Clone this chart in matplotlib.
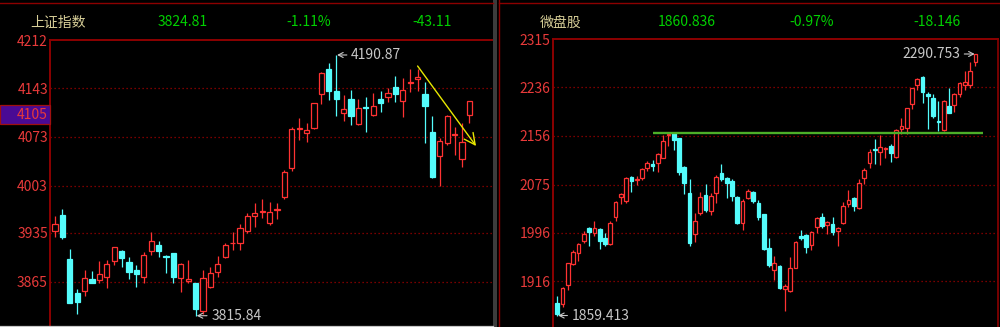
import numpy as np
import matplotlib
matplotlib.use("Agg")
import matplotlib.pyplot as plt
from matplotlib.patches import Rectangle
from matplotlib.lines import Line2D
import matplotlib.transforms as mtransforms

plt.rcParams['font.family'] = ['Noto Sans CJK SC', 'DejaVu Sans']

# ---------------- Shanghai Composite (上证指数) daily candles ----------------
sh_open = [3938.1, 3960.7, 3897.0, 3848.1, 3851.4, 3868.6, 3867.2, 3871.9, 3894.5, 3909.3,
           3893.5, 3881.6, 3871.9, 3908.9, 3917.1, 3902.1, 3905.6, 3869.6, 3866.2, 3862.4,
           3822.6, 3856.7, 3879.1, 3899.8, 3920.0, 3920.8, 3937.7, 3959.3, 3965.0, 3948.8,
           3968.6, 3987.0, 4027.9, 4084.9, 4079.1, 4086.3, 4134.8, 4170.3, 4139.5, 4107.9,
           4127.6, 4091.2, 4116.1, 4104.6, 4127.6, 4130.9, 4145.3, 4125.1, 4150.6, 4155.9,
           4134.3, 4079.7, 4045.6, 4063.8, 4075.8, 4040.8, 4105.0]
sh_high = [3959.7, 3968.9, 3911.4, 3853.8, 3881.6, 3880.1, 3894.9, 3896.0, 3915.1, 3910.3,
           3899.8, 3888.8, 3907.9, 3935.8, 3923.7, 3903.2, 3906.0, 3892.1, 3896.0, 3862.4,
           3881.6, 3886.3, 3902.1, 3920.0, 3935.8, 3947.3, 3963.1, 3977.5, 3983.3, 3979.8,
           3977.5, 4025.4, 4087.7, 4099.8, 4093.5, 4122.3, 4166.8, 4179.8, 4190.87, 4133.3,
           4140.5, 4127.1, 4130.0, 4135.8, 4139.5, 4143.0, 4161.1, 4157.4, 4170.3, 4170.3,
           4152.5, 4103.1, 4071.0, 4104.6, 4087.7, 4093.5, 4125.1]
sh_low = [3929.5, 3926.2, 3833.7, 3818.0, 3844.2, 3862.4, 3862.4, 3855.2, 3888.8, 3886.3,
          3868.2, 3857.5, 3862.4, 3903.2, 3900.7, 3876.8, 3862.4, 3850.4, 3862.4, 3815.84,
          3818.0, 3855.2, 3871.1, 3898.4, 3910.3, 3910.3, 3934.4, 3943.9, 3956.0, 3946.3,
          3954.9, 3983.3, 4024.4, 4068.6, 4066.1, 4084.0, 4120.4, 4126.1, 4103.1, 4096.4,
          4090.2, 4090.2, 4080.5, 4103.1, 4109.3, 4123.7, 4123.7, 4102.1, 4138.1, 4139.1,
          4063.8, 4013.5, 4002.4, 4061.4, 4047.0, 4030.2, 4092.6]
sh_close = [3947.3, 3929.5, 3834.5, 3835.5, 3869.6, 3863.3, 3875.4, 3889.8, 3914.2, 3899.3,
            3879.1, 3875.4, 3903.2, 3923.7, 3908.9, 3899.8, 3871.9, 3889.8, 3868.2, 3825.5,
            3869.6, 3877.7, 3890.2, 3917.5, 3920.8, 3941.6, 3959.7, 3964.0, 3966.0, 3965.4,
            3969.3, 4023.0, 4084.4, 4085.9, 4083.0, 4121.4, 4165.4, 4139.1, 4127.1, 4113.2,
            4103.1, 4115.1, 4115.1, 4117.5, 4122.3, 4136.6, 4134.3, 4140.5, 4151.6, 4158.8,
            4117.5, 4015.8, 4067.6, 4103.1, 4076.8, 4066.1, 4124.7]
sh_ticks = [4212, 4143, 4073, 4003, 3935, 3865]
sh_header = ["上证指数", "3824.81", "-1.11%", "-43.11"]
sh_marker = 4105
sh_peak = 4190.87
sh_trough = 3815.84

# ---------------- Micro-cap index (微盘股) daily candles ----------------
mc_open = [1880.5, 1877.9, 1909.7, 1944.4, 1963.0, 1982.8, 2003.2, 1995.0, 2001.6, 1986.8,
           1977.3, 2022.4, 2055.4, 2048.8, 2088.4, 2082.4, 2085.7, 2103.2, 2109.3, 2110.5,
           2119.7, 2157.1, 2159.9, 2151.7, 2104.9, 2062.0, 1993.8, 2028.0, 2058.2, 2032.3,
           2061.0, 2095.0, 2085.7, 2081.8, 2054.4, 2011.5, 2052.7, 2063.6, 2045.5, 2026.3,
           1970.3, 1934.5, 1941.6, 1902.6, 1900.3, 1938.3, 1990.5, 1992.2, 1975.7, 2004.9,
           2022.4, 2008.7, 2009.8, 1998.8, 2011.5, 2043.3, 2052.7, 2036.2, 2085.7, 2110.5,
           2134.1, 2129.6, 2133.6, 2139.0, 2121.4, 2166.5, 2168.2, 2208.3, 2239.6, 2253.3,
           2224.3, 2217.7, 2180.2, 2165.4, 2205.0, 2206.6, 2224.8, 2239.6, 2239.6, 2278.1]
mc_high = [1891.6, 1905.9, 1946.5, 1967.5, 1978.5, 1999.3, 2004.9, 2015.3, 2003.2, 1996.0,
           2015.3, 2048.8, 2061.0, 2088.4, 2089.5, 2089.5, 2102.2, 2114.3, 2115.9, 2127.0,
           2157.1, 2158.3, 2161.0, 2152.7, 2106.0, 2084.1, 2028.0, 2063.6, 2076.3, 2062.0,
           2091.2, 2108.8, 2087.4, 2084.1, 2056.5, 2051.1, 2067.6, 2065.3, 2049.9, 2027.0,
           1986.8, 1957.6, 1942.7, 1911.4, 1955.4, 1982.8, 2000.4, 1993.8, 1998.8, 2022.4,
           2028.0, 2015.8, 2022.4, 2005.9, 2046.1, 2066.4, 2054.4, 2084.1, 2102.7, 2134.1,
           2150.5, 2157.1, 2137.8, 2142.3, 2166.5, 2184.7, 2202.2, 2235.2, 2250.7, 2254.5,
           2228.6, 2224.8, 2213.7, 2214.9, 2234.2, 2226.9, 2245.1, 2262.7, 2277.1, 2290.753]
mc_low = [1859.413, 1873.9, 1901.5, 1942.7, 1949.8, 1978.5, 1974.1, 1990.5, 1968.6, 1974.1,
          1975.7, 2015.8, 2043.3, 2044.5, 2063.6, 2074.7, 2082.9, 2098.3, 2098.3, 2096.6,
          2118.7, 2139.0, 2132.4, 2091.2, 2059.8, 1974.1, 1981.1, 2025.2, 2030.6, 2025.2,
          2044.5, 2081.8, 2052.7, 2048.8, 2010.3, 2000.0, 2051.1, 2044.5, 2016.9, 1967.0,
          1939.9, 1918.0, 1902.6, 1866.8, 1898.7, 1937.3, 1983.9, 1962.0, 1967.5, 1996.0,
          2003.2, 1993.4, 1992.2, 1974.1, 2009.8, 2038.9, 2032.3, 2034.6, 2076.3, 2102.2,
          2108.8, 2107.7, 2118.7, 2112.1, 2118.7, 2158.8, 2158.3, 2199.5, 2231.4, 2210.4,
          2166.5, 2184.7, 2163.7, 2163.7, 2192.9, 2195.6, 2220.3, 2231.4, 2234.2, 2271.0]
mc_close = [1861.9, 1904.3, 1945.5, 1964.6, 1977.3, 1993.8, 1996.6, 2004.2, 1982.8, 1977.3,
            2012.5, 2047.1, 2059.8, 2085.7, 2081.8, 2084.1, 2100.6, 2111.5, 2106.5, 2125.3,
            2147.2, 2158.3, 2148.9, 2096.6, 2077.5, 1978.5, 2015.8, 2054.4, 2033.4, 2056.5,
            2088.4, 2084.1, 2078.5, 2056.5, 2012.5, 2048.8, 2065.3, 2048.8, 2021.4, 1968.6,
            1942.7, 1945.5, 1904.3, 1908.1, 1938.3, 1981.1, 1986.8, 1972.9, 1996.6, 2019.7,
            2007.0, 2014.1, 1997.6, 2004.2, 2040.0, 2049.9, 2040.0, 2077.5, 2099.4, 2129.6,
            2132.9, 2136.9, 2135.2, 2127.9, 2165.4, 2172.5, 2201.2, 2234.2, 2249.5, 2228.6,
            2222.0, 2188.5, 2178.6, 2213.7, 2193.9, 2224.3, 2242.4, 2245.1, 2262.7, 2290.3]
mc_ticks = [2315, 2236, 2156, 2075, 1996, 1916]
mc_header = ["微盘股", "1860.836", "-0.97%", "-18.146"]
mc_peak = 2290.753
mc_trough = 1859.413
mc_resistance = 2161

# ---------------- styling ----------------
UP = '#ff3232'
DOWN = '#54fcfc'
FRAME = '#8c0000'
GRID = '#a00000'
TICK = '#e83a3a'
NOTE = '#c8c8c8'
HEAD_NAME = '#d8cf98'
HEAD_VAL = '#00d000'

W, H = 1000, 327
fig = plt.figure(figsize=(W / 100, H / 100), dpi=100, facecolor='black')


def fx(x):
    return x / W


def fy(y):
    return 1 - y / H


def draw_candles(ax, o, h, l, c, width, min_h):
    o, h, l, c = map(np.asarray, (o, h, l, c))
    x = np.arange(len(o))
    up = c >= o
    edge = np.where(up, UP, DOWN)
    face = np.where(up, 'black', DOWN)
    ax.vlines(x, l, h, colors=edge, lw=0.9, zorder=2)
    bottom = np.minimum(o, c)
    height = np.maximum(np.abs(c - o), min_h)
    ax.bar(x, height, width, bottom, color=face, edgecolor=edge,
           linewidth=0.9, zorder=3)


def style_axes(ax, ticks, right_spine):
    ax.set_facecolor('black')
    for side in ('bottom', 'right'):
        ax.spines[side].set_visible(False)
    if right_spine:
        ax.spines['right'].set_visible(True)
        ax.spines['right'].set_color(FRAME)
        ax.spines['right'].set_linewidth(1.2)
    for side in ('left', 'top'):
        ax.spines[side].set_color(FRAME)
        ax.spines[side].set_linewidth(1.4)
    ax.set_xticks([])
    ax.set_yticks(ticks)
    ax.set_yticklabels([str(t) for t in ticks])
    ax.tick_params(axis='y', length=0, pad=1.5, labelcolor=TICK, labelsize=10)
    for t in ticks[1:]:
        ax.axhline(t, color=GRID, lw=0.9, ls=(0, (1, 2.2)), zorder=1)


# left panel: Shanghai Composite
ax1 = fig.add_axes([fx(50), fy(326.5), fx(443), (326.5 - 40.3) / H])
ax1.set_xlim(-0.68, 59.19)
ax1.set_ylim(3800.3, 4212)
style_axes(ax1, sh_ticks, right_spine=False)
draw_candles(ax1, sh_open, sh_high, sh_low, sh_close, 0.7, 0.8)

# right panel: micro-cap index
ax2 = fig.add_axes([fx(552.7), fy(326.5), fx(998.3 - 552.7), (326.5 - 39.3) / H])
ax2.set_xlim(-0.87, 83.31)
ax2.set_ylim(1841.3, 2315)
style_axes(ax2, mc_ticks, right_spine=True)
draw_candles(ax2, mc_open, mc_high, mc_low, mc_close, 0.7, 0.9)

# highlighted price marker on the left axis
blend = mtransforms.blended_transform_factory(ax1.transAxes, ax1.transData)
ax1.add_patch(Rectangle((-50 / 443, sh_marker - 13.5), 50 / 443, 27,
                        transform=blend, clip_on=False, facecolor='#4a0a94',
                        edgecolor='#a01010', lw=0.9, zorder=5))
ax1.text(-2 / 443, sh_marker, str(sh_marker), transform=blend, ha='right',
         va='center', color=TICK, fontsize=10, zorder=6)

# peak / trough annotations
arrow_kw = dict(arrowstyle='->,head_length=0.35,head_width=0.18', color=NOTE,
                lw=0.8, shrinkA=1, shrinkB=0)
i_peak = int(np.argmax(sh_high))
i_low = int(np.argmin(sh_low))
ax1.annotate(f"{sh_peak:.2f}", xy=(i_peak + 0.12, sh_peak), xytext=(i_peak + 2.0, sh_peak),
             color=NOTE, fontsize=10, ha='left', va='center', arrowprops=arrow_kw, zorder=6)
ax1.annotate(f"{sh_trough:.2f}", xy=(i_low + 0.15, sh_trough), xytext=(i_low + 2.1, sh_trough),
             color=NOTE, fontsize=10, ha='left', va='center', arrowprops=arrow_kw, zorder=6)

j_peak = int(np.argmax(mc_high))
j_low = int(np.argmin(mc_low))
ax2.annotate(f"{mc_trough:.3f}", xy=(j_low + 0.15, mc_trough), xytext=(j_low + 2.7, mc_trough),
             color=NOTE, fontsize=10, ha='left', va='center', arrowprops=arrow_kw, zorder=6)
ax2.annotate(f"{mc_peak:.3f}", xy=(j_peak - 0.15, mc_peak), xytext=(j_peak - 2.9, mc_peak),
             color=NOTE, fontsize=10, ha='right', va='center', arrowprops=arrow_kw, zorder=6)

# yellow trend arrow on the composite
ax1.annotate('', xy=(56.9, 4059.9), xytext=(49.0, 4175.0),
             arrowprops=dict(arrowstyle='->,head_length=0.8,head_width=0.4',
                             color='#e8e800', lw=1.0, shrinkA=0, shrinkB=0), zorder=6)

# green resistance line on the micro-cap panel
ax2.hlines(mc_resistance, 18.15, 80.5, color='#4caf28', lw=1.7, zorder=4)

# header rows
for xc, s, col in zip([58, 182.5, 308.5, 432.5], sh_header,
                      [HEAD_NAME, HEAD_VAL, HEAD_VAL, HEAD_VAL]):
    fig.text(fx(xc), fy(22.5), s, color=col, fontsize=10, ha='center', va='center')
for xc, s, col in zip([561, 686.5, 811.5, 936.5], mc_header,
                      [HEAD_NAME, HEAD_VAL, HEAD_VAL, HEAD_VAL]):
    fig.text(fx(xc), fy(22.5), s, color=col, fontsize=10, ha='center', va='center')

# panel frames and separator
fig.add_artist(Line2D([fx(0), fx(493.3)], [fy(3.3), fy(3.3)], color=FRAME, lw=1.0))
fig.add_artist(Line2D([fx(498.5), fx(1000)], [fy(3.3), fy(3.3)], color=FRAME, lw=1.0))
fig.add_artist(Rectangle((fx(493.3), 0), fx(4), 1, facecolor='#3c3c3c',
                         edgecolor='none', transform=fig.transFigure))
fig.add_artist(Line2D([fx(498.5), fx(498.5)], [0, 1], color=FRAME, lw=1.0))
fig.add_artist(Line2D([fx(0), fx(493.3)], [fy(326.4), fy(326.4)], color='#c8c8c8', lw=0.9))

fig.savefig('out.png', dpi=100, facecolor='black')
